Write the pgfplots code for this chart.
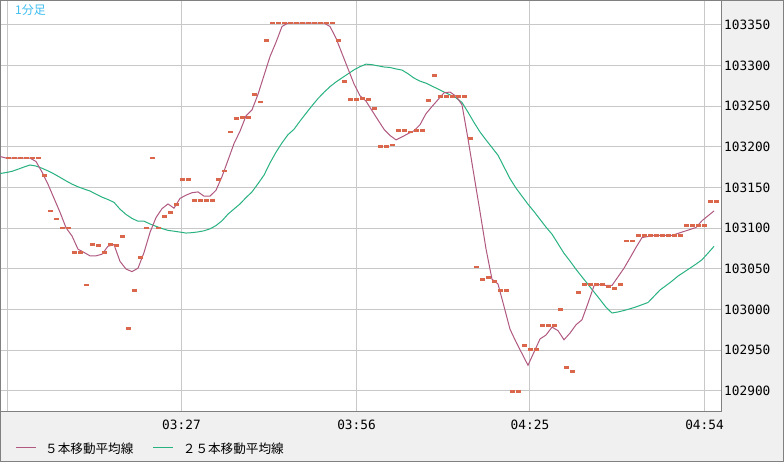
\documentclass[border=0pt]{standalone}
\usepackage{pgfplots}
\pgfplotsset{compat=1.18}
\usepackage{pgfplotstable}
\usepackage{fontspec}
\newfontfamily\cjk{Noto Sans CJK JP}
\newfontfamily\monof{DejaVu Sans Mono}
\definecolor{bggray}{RGB}{240,240,240}
\definecolor{framec}{RGB}{128,128,128}
\definecolor{gridc}{RGB}{200,200,200}
\definecolor{mafive}{RGB}{176,88,128}
\definecolor{matwentyfive}{RGB}{40,178,128}
\definecolor{mk}{RGB}{218,102,76}
\definecolor{titleblue}{RGB}{64,190,240}
\pgfdeclareplotmark{hbar}{\pgfpathrectangle{\pgfpoint{-0.1pt}{-1.4pt}}{\pgfpoint{4.7pt}{2.8pt}}\pgfusepathqfill}
\pgfplotstableread{
m c a5 a25
0 nan 103188 103167
1 103186 103186 103168.2
2 103186 103186 103169.7
3 103186 103186 103172.3
4 103186 103186 103175
5 103186 103186 103177.5
6 103186 103181.8 103176.2
7 103165 103168.8 103173.5
8 103121 103153.8 103170.2
9 103111 103136.6 103166.5
10 103100 103119.4 103162.3
11 103100 103100.4 103158
12 103070 103090.2 103154
13 103070 103074 103150.7
14 103030 103070 103148
15 103080 103065.8 103145.5
16 103079 103065.8 103141.6
17 103070 103067.8 103138
18 103080 103077.6 103135
19 103079 103079.6 103131.6
20 103090 103059 103123.2
21 102976 103049.6 103116.7
22 103023 103046.4 103111.8
23 103064 103050.6 103108.4
24 103100 103069.8 103108.4
25 103186 103094.6 103105
26 103100 103112.8 103102.1
27 103114 103123.8 103099.4
28 103119 103129.6 103097.1
29 103129 103124.4 103096.1
30 103160 103136.4 103095
31 103160 103140.4 103093.8
32 103134 103143.4 103094.3
33 103134 103144.4 103095.2
34 103134 103139.2 103096.6
35 103134 103139.2 103099
36 103160 103146.4 103103
37 103170 103163.2 103108.9
38 103218 103183.4 103117.1
39 103235 103203.8 103123.4
40 103236 103219 103129.6
41 103236 103237.8 103137.4
42 103264 103245.2 103144.4
43 103255 103264.4 103154.5
44 103331 103287.6 103165
45 103352 103310.8 103180
46 103352 103328.4 103193.2
47 103352 103347.8 103204.7
48 103352 103352 103214.8
49 103352 103352 103221.4
50 103352 103352 103231.5
51 103352 103352 103241
52 103352 103352 103250.3
53 103352 103352 103259.2
54 103352 103352 103266.9
55 103352 103347.8 103273.8
56 103331 103333.4 103279.6
57 103280 103314.6 103284.6
58 103258 103295.8 103289.5
59 103258 103277.2 103294.5
60 103259 103262.6 103298.4
61 103258 103256 103301.5
62 103247 103244.4 103300.8
63 103200 103232.8 103299.4
64 103200 103221.4 103298
65 103202 103213.8 103297.4
66 103220 103208.4 103295.6
67 103220 103212 103294.2
68 103218 103216 103289.7
69 103220 103219.6 103284.4
70 103220 103227 103280.6
71 103257 103240.6 103278.1
72 103288 103249.4 103274.5
73 103262 103257.8 103270.9
74 103262 103266.2 103267.3
75 103262 103267.2 103263.7
76 103262 103262 103260.1
77 103262 103251.6 103254.4
78 103210 103209.6 103242.4
79 103052 103164.6 103229.8
80 103037 103120 103218.1
81 103039 103074.4 103208.3
82 103034 103037 103198.9
83 103023 103031.2 103189.5
84 103023 103003.6 103175.1
85 102899 102975.6 103160.7
86 102899 102960 103149.1
87 102956 102945.6 103139.1
88 102951 102931.2 103129.2
89 102951 102947.4 103120.3
90 102980 102963.6 103110.7
91 102980 102968.4 103101.1
92 102980 102978.2 103092.4
93 103000 102973.8 103080.7
94 102929 102962.6 103068.9
95 102924 102970.8 103059.4
96 103021 102981 103049.2
97 103031 102987.2 103039.9
98 103031 103007.6 103030.7
99 103031 103029 103021.4
100 103031 103030.4 103012.1
101 103028 103029.4 103002.6
102 103026 103029.4 102995.5
103 103031 103040 102996.8
104 103084 103050.6 102998.6
105 103084 103063.2 103000.7
106 103091 103076.2 103003
107 103091 103088.2 103005.7
108 103091 103089.6 103008.4
109 103091 103091 103016.1
110 103091 103091 103023.8
111 103091 103091 103029.2
112 103091 103091 103034.8
113 103091 103093.4 103040.9
114 103103 103095.8 103045.8
115 103103 103098.2 103050.7
116 103103 103100.6 103055.6
117 103103 103109 103061
118 103133 103115 103069.1
119 103133 103121 103077.5
}\data
\begin{document}
\begin{tikzpicture}
\fill[bggray] (0pt,0pt) rectangle (784pt,462pt);
\draw[framec, line width=1pt] (0.5pt,0.5pt) rectangle (783.5pt,461.5pt);
\begin{axis}[
  at={(0.5pt,50pt)}, anchor=south west,
  scale only axis, width=720.5pt, height=411.5pt,
  xmin=0.0833, xmax=120.1667, ymin=102873.8, ymax=103379.75,
  axis background/.style={fill=white},
  axis line style={framec, line width=1pt},
  xtick={1.167,30.25,59.42,88.33,117.42},
  xticklabels={,03:27,03:56,04:25,04:54},
  ytick={102900,102950,103000,103050,103100,103150,103200,103250,103300,103350},
  yticklabels={102900,102950,103000,103050,103100,103150,103200,103250,103300,103350},
  scaled y ticks=false,
  ytick pos=right, xtick pos=bottom,
  major tick length=0pt,
  grid=major, major grid style={gridc, line width=1pt},
  xticklabel style={font=\monof\fontsize{12.8}{14}\selectfont, anchor=north, inner sep=0pt, yshift=-8pt},
  yticklabel style={font=\monof\fontsize{12.8}{14}\selectfont, anchor=west, inner sep=0pt, xshift=3pt},
]
\addplot[matwentyfive, line width=1pt, no markers] table[x=m, y=a25]{\data};
\addplot[mafive, line width=1pt, no markers] table[x=m, y=a5]{\data};
\addplot[mk, only marks, mark=hbar] table[x=m, y=c]{\data};
\end{axis}
\node[anchor=west, inner sep=0pt, text=titleblue, font=\cjk\fontsize{12}{13}\selectfont] at (15pt,451.5pt) {1分足};
\draw[mafive, line width=1pt] (16pt,14.3pt) -- (36pt,14.3pt);
\node[anchor=west, inner sep=0pt, font=\cjk\fontsize{12.6}{14}\selectfont] at (45pt,13.5pt) {５本移動平均線};
\draw[matwentyfive, line width=1pt] (153pt,14.3pt) -- (173pt,14.3pt);
\node[anchor=west, inner sep=0pt, font=\cjk\fontsize{12.6}{14}\selectfont] at (182.7pt,13.5pt) {２５本移動平均線};
\end{tikzpicture}
\end{document}
